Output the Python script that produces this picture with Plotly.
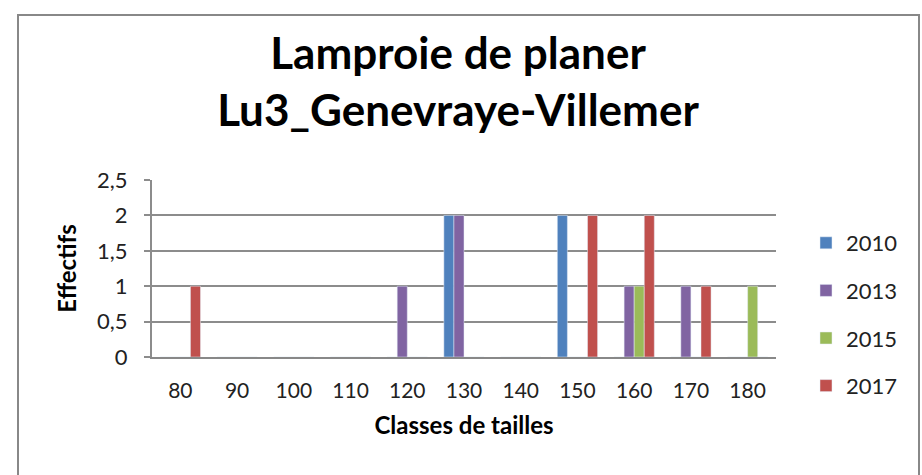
import plotly.graph_objects as go

categories = ["80", "90", "100", "110", "120", "130", "140", "150", "160", "170", "180"]
s2010 = [0, 0, 0, 0, 0, 2, 0, 2, 0, 0, 0]
s2013 = [0, 0, 0, 0, 1, 2, 0, 0, 1, 1, 0]
s2015 = [0, 0, 0, 0, 0, 0, 0, 0, 1, 0, 1]
s2017 = [1, 0, 0, 0, 0, 0, 0, 2, 2, 1, 0]
series = [("2010", s2010, "#4F81BD"), ("2013", s2013, "#8064A2"),
          ("2015", s2015, "#9BBB59"), ("2017", s2017, "#C0504D")]
yticks = [0, 0.5, 1, 1.5, 2, 2.5]
yticklabels = ["0", "0,5", "1", "1,5", "2", "2,5"]

FONT = "Lato"
fig = go.Figure()
for name, vals, col in series:
    fig.add_trace(go.Bar(x=categories, y=vals, name=name, marker_color=col,
                         legendgroup=name))

W, H = 922, 475
L, R, T, B = 152, 146, 180, 118
pw, ph = W - L - R, H - T - B

def px2x(px):
    return (px - L) / pw

def py2y(py):
    return (H - B - py) / ph

fig.update_layout(
    width=W, height=H,
    margin=dict(l=L, r=R, t=T, b=B),
    paper_bgcolor="white", plot_bgcolor="white",
    barmode="group", bargap=0.29, bargroupgap=0,
    font=dict(family=FONT, color="#000"),
    title=dict(text="<b>Lamproie de planer<br>Lu3_Genevraye-Villemer</b>",
               x=px2x(458), xref="paper", xanchor="center",
               y=0.855, yanchor="middle",
               font=dict(size=44, family=FONT, color="#000")),
    legend=dict(x=px2x(806), y=py2y(222), xanchor="left", yanchor="top",
                maxheight=260,
                font=dict(size=22, family=FONT, color="#222"),
                tracegroupgap=16, traceorder="grouped", itemwidth=30),
    xaxis=dict(type="category", showgrid=False, showline=True, linecolor="#888",
               linewidth=2, ticks="outside", ticklen=14, tickcolor="rgba(0,0,0,0)",
               tickfont=dict(size=21, color="#222"),
               title=dict(text="<b>Classes de tailles</b>", font=dict(size=24), standoff=16)),
    yaxis=dict(range=[0, 2.5], tickvals=yticks, ticktext=yticklabels,
               showgrid=True, gridcolor="#8c8c8c", gridwidth=2,
               showline=True, linecolor="#8c8c8c", linewidth=2,
               ticks="outside", ticklen=6, tickcolor="#8c8c8c", tickwidth=2,
               ticklabelstandoff=12,
               tickfont=dict(size=22, color="#222"), zeroline=False,
               title=dict(text="<b>Effectifs</b>", font=dict(size=24), standoff=14)),
    showlegend=True,
)
fig.add_shape(type="rect", xref="paper", yref="paper",
              x0=px2x(18), x1=px2x(919), y0=py2y(490), y1=py2y(15),
              line=dict(color="#888", width=2), fillcolor="rgba(0,0,0,0)", layer="below")

fig.write_html("out.html", config={"displayModeBar": False},
               post_script="document.body.style.margin='0';")
